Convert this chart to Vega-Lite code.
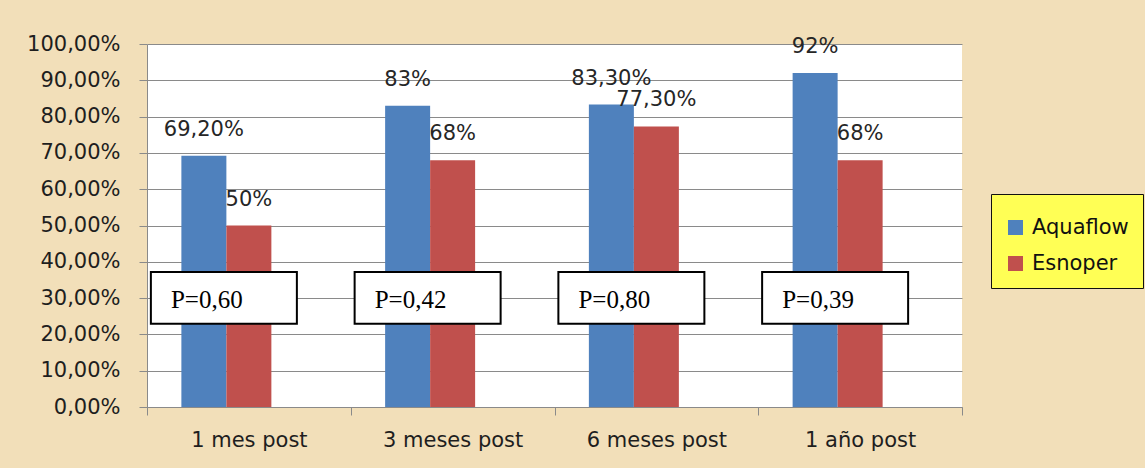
{
  "$schema": "https://vega.github.io/schema/vega-lite/v6.json",
  "width": 815,
  "height": 363,
  "autosize": {"type": "none"},
  "padding": {"left": 147, "top": 44, "right": 183, "bottom": 61},
  "background": "#F2DFB9",
  "config": {
    "locale": {"number": {"decimal": ",", "thousands": ".", "grouping": [3], "currency": ["", " €"]}},
    "view": {"fill": "white", "stroke": null},
    "font": "DejaVu Sans",
    "axis": {
      "labelFont": "DejaVu Sans",
      "labelFontSize": 21,
      "labelColor": "#1e1e1e",
      "domainColor": "#8a8a8a",
      "tickColor": "#8a8a8a",
      "gridColor": "#8a8a8a",
      "gridOpacity": 1,
      "tickSize": 8,
      "title": null,
      "labelOverlap": false
    }
  },
  "datasets": {
    "bars": [
      {"periodo": "1 mes post", "serie": "Aquaflow", "valor": 0.692, "etiqueta": "69,20%"},
      {"periodo": "1 mes post", "serie": "Esnoper", "valor": 0.50, "etiqueta": "50%"},
      {"periodo": "3 meses post", "serie": "Aquaflow", "valor": 0.83, "etiqueta": "83%"},
      {"periodo": "3 meses post", "serie": "Esnoper", "valor": 0.68, "etiqueta": "68%"},
      {"periodo": "6 meses post", "serie": "Aquaflow", "valor": 0.833, "etiqueta": "83,30%"},
      {"periodo": "6 meses post", "serie": "Esnoper", "valor": 0.773, "etiqueta": "77,30%"},
      {"periodo": "1 año post", "serie": "Aquaflow", "valor": 0.92, "etiqueta": "92%"},
      {"periodo": "1 año post", "serie": "Esnoper", "valor": 0.68, "etiqueta": "68%"}
    ],
    "pvals": [
      {"periodo": "1 mes post", "p": "P=0,60"},
      {"periodo": "3 meses post", "p": "P=0,42"},
      {"periodo": "6 meses post", "p": "P=0,80"},
      {"periodo": "1 año post", "p": "P=0,39"}
    ]
  },
  "encoding": {
    "x": {
      "field": "periodo", "type": "nominal",
      "sort": ["1 mes post", "3 meses post", "6 meses post", "1 año post"],
      "scale": {"paddingInner": 0, "paddingOuter": 0},
      "axis": {"labelAngle": 0, "tickBand": "extent", "labelPadding": 14, "grid": false}
    }
  },
  "layer": [
    {
      "data": {"name": "bars"},
      "mark": {"type": "bar"},
      "encoding": {
        "xOffset": {
          "field": "serie", "type": "nominal",
          "scale": {"domain": ["Aquaflow", "Esnoper", "_"], "paddingInner": 0, "paddingOuter": 0.764}
        },
        "y": {
          "field": "valor", "type": "quantitative",
          "scale": {"domain": [0, 1], "nice": false},
          "axis": {"values": [0, 0.1, 0.2, 0.3, 0.4, 0.5, 0.6, 0.7, 0.8, 0.9, 1], "tickCount": 11, "format": ".2%", "labelPadding": 19, "grid": true, "labelOverlap": false}
        },
        "color": {
          "field": "serie", "type": "nominal",
          "scale": {"domain": ["Aquaflow", "Esnoper"], "range": ["#4F81BD", "#C0504D"]},
          "legend": {
            "orient": "none", "legendX": 844, "legendY": 150,
            "title": " ", "titleFontSize": 9, "titlePadding": 0,
            "fillColor": "#FFFF55", "strokeColor": "#111111",
            "padding": 14, "symbolType": "square", "symbolSize": 225, "symbolStrokeWidth": 0,
            "labelFont": "DejaVu Sans", "labelFontSize": 21, "labelColor": "#111111",
            "rowPadding": 14, "labelOffset": 6
          }
        }
      }
    },
    {
      "data": {"name": "bars"},
      "mark": {"type": "text", "baseline": "alphabetic", "dy": -20, "fontSize": 21, "font": "DejaVu Sans", "color": "#262626"},
      "encoding": {
        "xOffset": {"field": "serie", "type": "nominal"},
        "y": {
          "field": "valor", "type": "quantitative",
          "axis": {"values": [0, 0.1, 0.2, 0.3, 0.4, 0.5, 0.6, 0.7, 0.8, 0.9, 1], "tickCount": 11, "format": ".2%", "labelPadding": 19, "grid": true, "labelOverlap": false}
        },
        "text": {"field": "etiqueta"}
      }
    },
    {
      "data": {"name": "pvals"},
      "mark": {"type": "bar", "width": 146, "xOffset": -25, "fill": "white", "stroke": "black", "strokeWidth": 2},
      "encoding": {
        "y": {
          "datum": 0.372,
          "axis": {"values": [0, 0.1, 0.2, 0.3, 0.4, 0.5, 0.6, 0.7, 0.8, 0.9, 1], "tickCount": 11, "format": ".2%", "labelPadding": 19, "grid": true, "labelOverlap": false}
        },
        "y2": {"datum": 0.229}
      }
    },
    {
      "data": {"name": "pvals"},
      "mark": {"type": "text", "font": "Liberation Serif", "fontSize": 25, "align": "left", "baseline": "middle", "xOffset": -78, "dy": 2, "color": "black"},
      "encoding": {
        "y": {
          "datum": 0.30,
          "axis": {"values": [0, 0.1, 0.2, 0.3, 0.4, 0.5, 0.6, 0.7, 0.8, 0.9, 1], "tickCount": 11, "format": ".2%", "labelPadding": 19, "grid": true, "labelOverlap": false}
        },
        "text": {"field": "p"}
      }
    }
  ]
}
